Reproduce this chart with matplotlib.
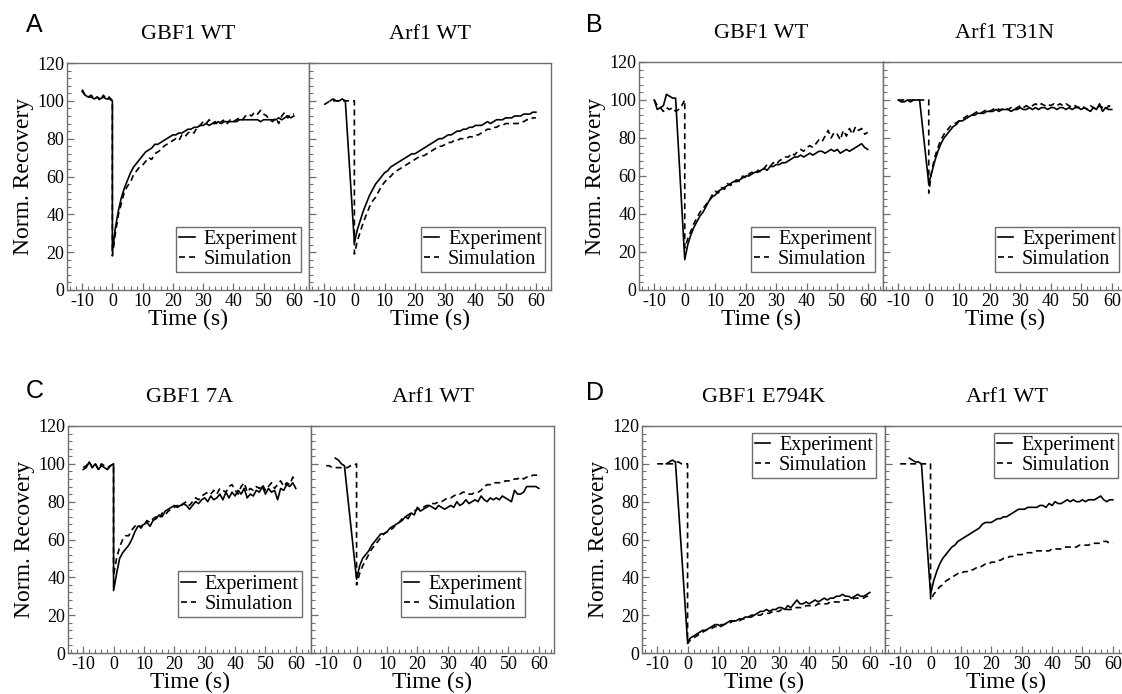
import numpy as np
import matplotlib
matplotlib.use("Agg")
import matplotlib.pyplot as plt
from matplotlib.ticker import MultipleLocator

plt.rcParams['font.family'] = ['Liberation Serif', 'DejaVu Serif']
plt.rcParams['axes.unicode_minus'] = False

# ---------------- data ----------------
REC_T = list(range(0, 61))            # recovery time points (s)
SIM_PRE_T = list(range(-10, 1))       # simulation pre-bleach time points

PANEL_LABELS = ["A", "B", "C", "D"]
TITLES = [["GBF1 WT", "Arf1 WT"], ["GBF1 WT", "Arf1 T31N"],
          ["GBF1 7A", "Arf1 WT"], ["GBF1 E794K", "Arf1 WT"]]
SERIES_NAMES = ["Experiment", "Simulation"]
X_TICKS = [-10, 0, 10, 20, 30, 40, 50, 60]
Y_TICKS = [0, 20, 40, 60, 80, 100, 120]

# Panel A, GBF1 WT
A1_EXP_PRE_T = [-10, -9, -8, -7, -6, -5, -4, -3, -2, -1, 0]
A1_EXP_PRE = [105, 103, 102, 102, 101, 102, 101, 102, 101, 101, 100]
A1_EXP_REC = [20, 33, 42, 49, 54, 58, 62, 65, 67, 69, 71,
              73, 74, 75, 77, 77, 78, 79, 80, 81, 82,
              82, 83, 83, 84, 85, 85, 86, 86, 87, 87,
              88, 87, 88, 88, 89, 88, 89, 89, 89, 89,
              89, 90, 90, 90, 90, 90, 90, 90, 89, 90,
              90, 90, 90, 90, 91, 90, 91, 92, 91, 92]
A1_SIM_PRE = [106, 103, 102, 103, 101, 102, 100, 103, 101, 102, 100]
A1_SIM_REC = [18, 30, 40, 46, 52, 55, 57, 61, 63, 65, 66,
              68, 70, 69, 72, 73, 74, 76, 77, 78, 79,
              80, 79, 82, 81, 83, 84, 83, 86, 87, 89,
              88, 90, 88, 89, 87, 89, 90, 88, 90, 89,
              90, 91, 90, 92, 93, 92, 94, 93, 95, 93,
              92, 90, 89, 91, 88, 92, 94, 91, 93, 93]

# Panel A, Arf1 WT
A2_EXP_PRE_T = [-8, -7, -6, -5, -4, -3]
A2_EXP_PRE = [100, 101, 100, 100, 101, 100]
A2_EXP_REC = [25, 32, 37, 42, 46, 50, 53, 56, 58, 60, 62,
              63, 65, 66, 67, 68, 69, 70, 71, 72, 72,
              73, 74, 75, 76, 77, 78, 79, 80, 80, 81,
              82, 82, 83, 84, 84, 85, 85, 86, 86, 87,
              87, 87, 88, 89, 88, 89, 90, 90, 90, 91,
              91, 91, 92, 92, 92, 93, 93, 93, 94, 94]
A2_SIM_PRE = [98, 99, 100, 100, 100, 100, 100, 100, 100, 100, 100]
A2_SIM_REC = [19, 26, 31, 36, 40, 44, 47, 49, 52, 55, 57,
              59, 60, 62, 63, 64, 65, 66, 67, 68, 69,
              70, 71, 71, 72, 73, 74, 75, 76, 76, 77,
              78, 78, 79, 79, 80, 80, 80, 81, 81, 82,
              82, 83, 84, 85, 85, 86, 86, 87, 87, 88,
              88, 88, 88, 88, 89, 89, 90, 90, 91, 91]

# Panel B, GBF1 WT
B1_EXP_PRE_T = [-10, -9, -8, -7, -6, -5, -4, -3]
B1_EXP_PRE = [100, 95, 96, 97, 103, 102, 101, 101]
B1_EXP_REC = [16, 24, 29, 33, 36, 39, 41, 44, 47, 49, 50,
              52, 53, 54, 55, 56, 57, 57, 58, 59, 60,
              60, 61, 62, 62, 63, 64, 63, 65, 65, 66,
              66, 67, 67, 68, 69, 70, 70, 71, 70, 71,
              72, 71, 72, 73, 73, 72, 73, 74, 73, 74,
              72, 73, 74, 73, 74, 75, 76, 77, 75, 74]
B1_SIM_PRE = [100, 97, 96, 94, 96, 95, 96, 94, 95, 97, 100]
B1_SIM_REC = [22, 27, 31, 35, 38, 41, 43, 45, 47, 50, 52,
              51, 54, 53, 56, 55, 57, 58, 57, 60, 59,
              61, 62, 61, 63, 62, 64, 66, 65, 67, 66,
              68, 69, 70, 70, 72, 71, 73, 74, 73, 75,
              76, 75, 77, 79, 78, 81, 84, 80, 83, 82,
              79, 84, 81, 85, 82, 86, 84, 85, 82, 83]

# Panel B, Arf1 T31N
B2_EXP_PRE_T = [-10, -9, -8, -7, -6, -5, -4, -3]
B2_EXP_PRE = [100, 99, 99, 100, 99, 100, 100, 100]
B2_EXP_REC = [56, 62, 68, 73, 77, 80, 82, 84, 86, 87, 89,
              89, 90, 91, 92, 92, 93, 93, 93, 94, 94,
              94, 95, 94, 95, 95, 95, 94, 95, 95, 96,
              95, 95, 96, 95, 96, 95, 96, 96, 95, 96,
              96, 95, 96, 96, 95, 96, 95, 96, 96, 95,
              96, 95, 94, 96, 95, 98, 94, 96, 95, 95]
B2_SIM_PRE = [100, 100, 100, 100, 100, 100, 100, 100, 100, 100, 100]
B2_SIM_REC = [51, 63, 70, 75, 79, 82, 84, 86, 87, 88, 89,
              90, 91, 92, 92, 93, 94, 93, 94, 95, 94,
              95, 96, 95, 95, 96, 95, 96, 95, 96, 97,
              96, 97, 96, 97, 98, 97, 98, 97, 98, 97,
              98, 97, 98, 97, 98, 97, 96, 97, 96, 97,
              96, 95, 97, 96, 95, 97, 96, 95, 97, 96]

# Panel C, GBF1 7A
C1_EXP_PRE_T = [-10, -9, -8, -7, -6, -5, -4, -3, -2, -1, 0]
C1_EXP_PRE = [97, 98, 101, 98, 100, 97, 99, 98, 97, 99, 100]
C1_EXP_REC = [33, 42, 50, 53, 55, 57, 60, 64, 67, 67, 68,
              69, 67, 70, 71, 73, 72, 75, 76, 77, 78,
              77, 78, 79, 78, 76, 78, 80, 79, 81, 82,
              80, 83, 81, 82, 84, 81, 85, 82, 85, 83,
              86, 84, 87, 82, 84, 83, 86, 85, 88, 84,
              87, 85, 86, 81, 87, 86, 89, 88, 90, 87]
C1_SIM_PRE = [98, 99, 101, 98, 100, 97, 100, 99, 98, 99, 100]
C1_SIM_REC = [41, 50, 56, 60, 62, 62, 65, 67, 68, 66, 68,
              70, 69, 71, 72, 71, 74, 73, 75, 76, 77,
              78, 77, 79, 80, 78, 80, 82, 81, 83, 84,
              85, 84, 86, 84, 87, 86, 85, 88, 89, 86,
              84, 88, 90, 85, 87, 86, 88, 87, 89, 86,
              88, 90, 87, 89, 91, 88, 90, 89, 93, 91]

# Panel C, Arf1 WT
C2_EXP_PRE_T = [-7, -6, -5, -4]
C2_EXP_PRE = [103, 102, 100, 99]
C2_EXP_REC = [39, 46, 50, 52, 54, 57, 59, 61, 63, 63, 64,
              66, 67, 68, 69, 70, 72, 71, 74, 73, 77,
              75, 76, 77, 78, 77, 76, 78, 77, 76, 77,
              78, 77, 80, 78, 79, 81, 79, 80, 81, 80,
              83, 81, 80, 82, 81, 82, 81, 83, 82, 81,
              80, 86, 84, 84, 85, 88, 88, 88, 88, 87]
C2_SIM_PRE = [99, 99, 98, 98, 98, 98, 98, 98, 99, 99, 100]
C2_SIM_REC = [36, 42, 46, 49, 52, 55, 57, 59, 61, 63, 64,
              65, 66, 68, 69, 71, 72, 73, 74, 75, 76,
              77, 77, 78, 78, 79, 79, 80, 80, 81, 82,
              82, 83, 84, 84, 85, 85, 84, 84, 85, 85,
              86, 88, 89, 89, 90, 90, 90, 90, 91, 91,
              91, 92, 92, 93, 92, 93, 93, 94, 94, 94]

# Panel D, GBF1 E794K
D1_EXP_PRE_T = [-7, -6, -5, -4]
D1_EXP_PRE = [100, 101, 102, 101]
D1_EXP_REC = [6, 8, 9, 10, 11, 12, 12, 13, 14, 15, 15,
              14, 15, 16, 17, 17, 17, 18, 18, 19, 19,
              20, 20, 21, 22, 22, 23, 22, 23, 23, 24,
              24, 23, 25, 24, 26, 28, 26, 26, 27, 26,
              27, 28, 27, 28, 29, 28, 29, 29, 30, 30,
              31, 30, 30, 29, 30, 31, 30, 30, 31, 32]
D1_SIM_PRE = [100, 100, 100, 100, 100, 100, 101, 101, 100, 100, 100]
D1_SIM_REC = [5, 7, 8, 9, 10, 11, 12, 13, 13, 14, 14,
              15, 15, 16, 16, 17, 17, 17, 18, 18, 19,
              19, 20, 20, 20, 21, 21, 21, 22, 22, 22,
              23, 23, 23, 23, 24, 24, 24, 24, 25, 25,
              25, 25, 26, 26, 26, 26, 27, 27, 27, 27,
              28, 28, 28, 28, 29, 29, 29, 29, 30, 30]

# Panel D, Arf1 WT
D2_EXP_PRE_T = [-7, -6, -5, -4, -3]
D2_EXP_PRE = [103, 102, 101, 101, 100]
D2_EXP_REC = [31, 38, 43, 47, 50, 52, 54, 56, 57, 59, 60,
              61, 62, 63, 64, 65, 66, 68, 69, 69, 69,
              70, 71, 71, 72, 72, 73, 74, 75, 76, 76,
              76, 77, 77, 77, 77, 78, 78, 77, 79, 78,
              80, 79, 79, 80, 81, 80, 81, 80, 80, 81,
              80, 81, 81, 81, 82, 83, 81, 80, 81, 81]
D2_SIM_PRE = [100, 100, 100, 100, 100, 100, 100, 100, 100, 100, 100]
D2_SIM_REC = [28, 31, 33, 35, 36, 38, 39, 40, 41, 42, 42,
              43, 43, 44, 44, 45, 45, 46, 47, 47, 48,
              48, 49, 49, 50, 50, 51, 51, 52, 52, 52,
              53, 53, 53, 53, 54, 54, 54, 54, 54, 55,
              55, 55, 55, 56, 56, 56, 56, 56, 57, 57,
              57, 57, 58, 58, 58, 58, 59, 59, 58, 58]

SUBPLOTS = [
    [(A1_EXP_PRE_T, A1_EXP_PRE, A1_EXP_REC, A1_SIM_PRE, A1_SIM_REC),
     (A2_EXP_PRE_T, A2_EXP_PRE, A2_EXP_REC, A2_SIM_PRE, A2_SIM_REC)],
    [(B1_EXP_PRE_T, B1_EXP_PRE, B1_EXP_REC, B1_SIM_PRE, B1_SIM_REC),
     (B2_EXP_PRE_T, B2_EXP_PRE, B2_EXP_REC, B2_SIM_PRE, B2_SIM_REC)],
    [(C1_EXP_PRE_T, C1_EXP_PRE, C1_EXP_REC, C1_SIM_PRE, C1_SIM_REC),
     (C2_EXP_PRE_T, C2_EXP_PRE, C2_EXP_REC, C2_SIM_PRE, C2_SIM_REC)],
    [(D1_EXP_PRE_T, D1_EXP_PRE, D1_EXP_REC, D1_SIM_PRE, D1_SIM_REC),
     (D2_EXP_PRE_T, D2_EXP_PRE, D2_EXP_REC, D2_SIM_PRE, D2_SIM_REC)],
]

# ---------------- layout (pixels) ----------------
W, H = 1122, 694
fig = plt.figure(figsize=(W / 100, H / 100), dpi=100)

# (left x of first axes, top y, width of each axes, height)
PANEL_BOX = [(67, 63, 242, 227), (639, 62, 244, 228),
             (68, 426, 243, 227), (642, 426, 243, 227)]
LETTER_POS = [(26, 32), (586, 32), (26, 398), (586, 400)]
LEGEND_POS = [[("lower right", (0.965, 0.08)), ("lower right", (0.975, 0.08))],
              [("lower right", (0.967, 0.08)), ("lower right", (0.967, 0.08))],
              [("lower right", (0.962, 0.16)), ("lower right", (0.88, 0.16))],
              [("upper right", (0.963, 0.97)), ("upper right", (0.96, 0.97))]]

SPINE_C = "#6e6e6e"
DASH = (0, (3.6, 2.4))

def pax(x, y, w, h):
    return fig.add_axes([x / W, 1 - (y + h) / H, w / W, h / H])

for p in range(4):
    x0, y0, aw, ah = PANEL_BOX[p]
    fig.text(LETTER_POS[p][0] / W, 1 - LETTER_POS[p][1] / H, PANEL_LABELS[p],
             fontsize=18, family=['Liberation Sans', 'DejaVu Sans'],
             ha='left', va='baseline')
    for s in range(2):
        ax = pax(x0 + s * aw, y0, aw, ah)
        ept, epv, erv, spv, srv = SUBPLOTS[p][s]
        ex = list(ept) + REC_T
        ey = list(epv) + erv
        sx = SIM_PRE_T + REC_T
        sy = spv + srv
        ax.plot(ex, ey, color='black', lw=1.2, ls='-', label=SERIES_NAMES[0])
        ax.plot(sx, sy, color='black', lw=1.2, ls=DASH, label=SERIES_NAMES[1])
        ax.set_xlim(-15, 65)
        ax.set_ylim(0, 120)
        ax.xaxis.set_major_locator(MultipleLocator(10))
        ax.xaxis.set_minor_locator(MultipleLocator(2))
        ax.yaxis.set_major_locator(MultipleLocator(20))
        ax.yaxis.set_minor_locator(MultipleLocator(4))
        ax.set_xticks(X_TICKS)
        ax.tick_params(which='both', direction='in', color=SPINE_C,
                       top=False, right=False, labelsize=13, pad=2)
        ax.tick_params(which='major', length=5, width=0.9)
        ax.tick_params(which='minor', length=2.6, width=0.8)
        for sp in ax.spines.values():
            sp.set_color(SPINE_C)
            sp.set_linewidth(1.0)
        if s == 0:
            ax.set_yticks(Y_TICKS)
            ax.set_ylabel("Norm. Recovery", fontsize=17, labelpad=2)
        else:
            ax.tick_params(labelleft=False)
        ax.set_xlabel("Time (s)", fontsize=17, labelpad=-1)
        ax.set_title(TITLES[p][s], fontsize=16, pad=17)
        loc, anchor = LEGEND_POS[p][s]
        leg = ax.legend(loc=loc, bbox_to_anchor=anchor, borderaxespad=0,
                        fontsize=14.5, frameon=True, fancybox=False,
                        framealpha=1, edgecolor=SPINE_C, handlelength=0.75,
                        handletextpad=0.45, borderpad=0.15, labelspacing=0.05)
        leg.get_frame().set_linewidth(1.0)

fig.savefig("out.png", dpi=100)
